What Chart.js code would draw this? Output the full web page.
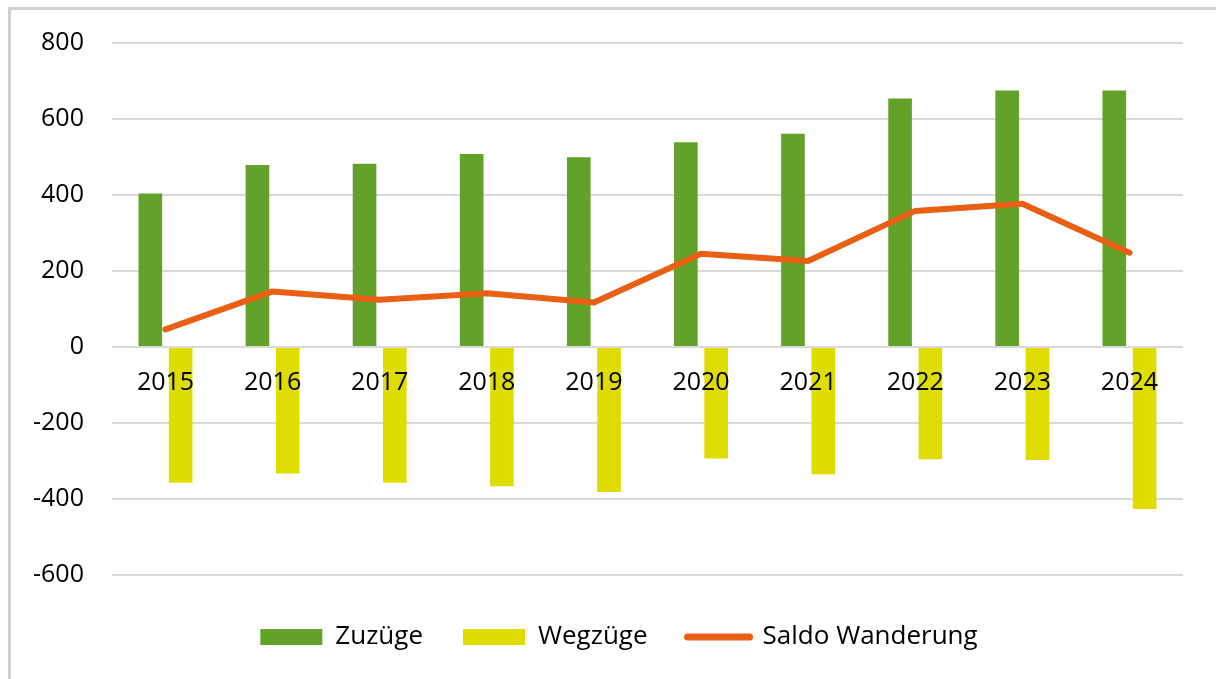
<!DOCTYPE html>
<html lang="de">
<head>
<meta charset="utf-8">
<title>Zuzüge, Wegzüge, Saldo Wanderung 2015–2024</title>
<script src="https://cdn.jsdelivr.net/npm/chart.js@4/dist/chart.umd.min.js"></script>
<style>
  html, body { margin: 0; padding: 0; background: #fff; overflow: hidden; }
  #wrap { position: relative; width: 1216px; height: 679px; }
  #rahmen {
    position: absolute; left: 8px; top: 7px; width: 1400px; height: 900px;
    border-left: 3px solid #d0d0d0; border-top: 3px solid #d0d0d0;
  }
  #grafik { position: absolute; left: 0; top: 0; }
</style>
</head>
<body>
<div id="wrap">
  <div id="rahmen"></div>
  <canvas id="grafik" width="1216" height="679"></canvas>
</div>
<script>
(function () {
    'use strict';

    // ── Daten ──
    const jahre    = ['2015', '2016', '2017', '2018', '2019', '2020', '2021', '2022', '2023', '2024'];
    const zuzuege  = [404, 479, 482, 508, 499, 539, 561, 654, 675, 675];
    const wegzuege = [-358, -333, -358, -367, -382, -294, -335, -296, -298, -427];
    const saldo    = [46, 146, 124, 141, 117, 245, 226, 358, 377, 248];

    // ── Farben ──
    const GRUEN  = '#63a229';
    const GELB   = '#dfdc00';
    const ORANGE = '#e95f14';
    const GITTER = '#d9d9d9';
    const TEXT   = '#000000';

    Chart.defaults.font.family = "'Open Sans', 'Noto Sans', sans-serif";
    Chart.defaults.font.size = 25;
    Chart.defaults.color = TEXT;

    // Legende etwas nach rechts schieben (im Original nicht exakt zentriert)
    const legendeVerschieben = {
        id: 'legendeVerschieben',
        afterLayout(chart) {
            if (chart.legend) chart.legend.left += 50;
        }
    };

    new Chart(document.getElementById('grafik'), {
        type: 'bar',
        data: {
            labels: jahre,
            datasets: [
                {
                    label: 'Zuzüge',
                    data: zuzuege,
                    backgroundColor: GRUEN,
                    order: 1,
                    categoryPercentage: 0.566,
                    barPercentage: 0.78
                },
                {
                    label: 'Wegzüge',
                    data: wegzuege,
                    backgroundColor: GELB,
                    order: 1,
                    categoryPercentage: 0.566,
                    barPercentage: 0.78
                },
                {
                    type: 'line',
                    label: 'Saldo Wanderung',
                    data: saldo,
                    borderColor: ORANGE,
                    backgroundColor: ORANGE,
                    borderWidth: 6,
                    borderCapStyle: 'round',
                    borderJoinStyle: 'round',
                    pointRadius: 0,
                    pointStyle: 'line',
                    tension: 0,
                    order: 0
                }
            ]
        },
        plugins: [legendeVerschieben],
        options: {
            responsive: false,
            animation: false,
            layout: { padding: { left: 5, right: 33, top: 39, bottom: 19 } },
            plugins: {
                tooltip: { enabled: false },
                legend: {
                    position: 'bottom',
                    // leerer Titel schafft Abstand zwischen Diagramm und Legende
                    title: { display: true, text: '', font: { size: 1 }, padding: { top: 0, bottom: 8 } },
                    labels: {
                        usePointStyle: true,
                        pointStyleWidth: 62,
                        boxHeight: 16,
                        padding: 40,
                        font: { size: 26 },
                        sort: (a, b) => a.datasetIndex - b.datasetIndex,
                        generateLabels: function (chart) {
                            const items = Chart.defaults.plugins.legend.labels.generateLabels(chart);
                            items.forEach(function (it) {
                                if (it.datasetIndex < 2) {
                                    it.pointStyle = 'rect';
                                    it.lineWidth = 0;
                                } else {
                                    it.pointStyle = 'line';
                                    it.lineWidth = 7;
                                    it.lineCap = 'round';
                                }
                            });
                            return items;
                        }
                    }
                }
            },
            scales: {
                x: {
                    position: { y: 0 },
                    grid: { display: false, drawTicks: false },
                    border: { display: false },
                    ticks: { z: 1, padding: 21, maxRotation: 0, font: { size: 25 } }
                },
                y: {
                    min: -600,
                    max: 800,
                    ticks: { stepSize: 200, padding: 28, font: { size: 25 } },
                    grid: { color: GITTER, lineWidth: 2, drawTicks: false },
                    border: { display: false }
                }
            }
        }
    });
})();
</script>
</body>
</html>
